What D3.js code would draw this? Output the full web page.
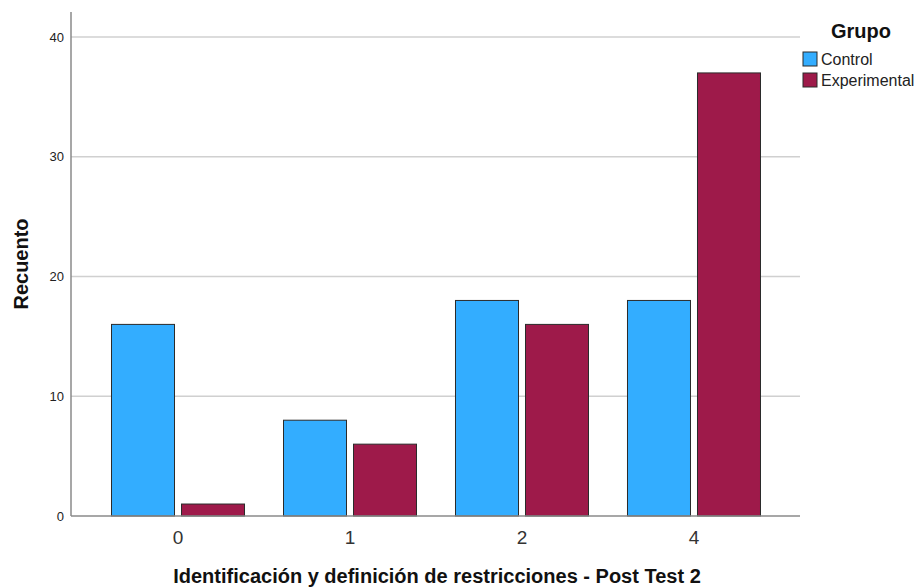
<!DOCTYPE html>
<html><head><meta charset="utf-8">
<script src="https://cdn.jsdelivr.net/npm/d3@7"></script>
<style>body{margin:0;background:#fff}svg{display:block;font-family:Arial,"Liberation Sans",sans-serif}</style>
</head><body><svg id="c" width="920" height="588"></svg>
<script>
const categories = ["0","1","2","4"];
const groups = ["Control","Experimental"];
const controlValues = [16, 8, 18, 18];
const experimentalValues = [1, 6, 16, 37];
const yTicks = [0, 10, 20, 30, 40];
const colors = ["#33adff", "#9e1a4a"];

const svg = d3.select("#c");
const mLeft = 71, mRight = 800, mTop = 12, mBottom = 516;
const x = d3.scaleBand().domain(categories).range([92, 780]).paddingInner(0.2267).paddingOuter(0.1134);
const x1 = d3.scaleBand().domain(groups).range([0, x.bandwidth()]).paddingInner(0.1);
const y = d3.scaleLinear().domain([0, 40]).range([mBottom, 37]);

// gridlines
svg.append("g").selectAll("line").data(yTicks.filter(d => d > 0)).join("line")
  .attr("x1", mLeft).attr("x2", mRight).attr("y1", d => y(d)).attr("y2", d => y(d))
  .attr("stroke", "#d0d0d0").attr("stroke-width", 1.5);

const data = categories.map((c, i) => ({cat: c, vals: [controlValues[i], experimentalValues[i]]}));
svg.append("g").selectAll("g").data(data).join("g")
  .attr("transform", d => `translate(${x(d.cat)},0)`)
  .selectAll("rect").data(d => d.vals.map((v, j) => ({g: groups[j], v, j}))).join("rect")
  .attr("x", d => x1(d.g)).attr("width", x1.bandwidth())
  .attr("y", d => y(d.v)).attr("height", d => y(0) - y(d.v))
  .attr("fill", d => colors[d.j]).attr("stroke", "#2b2b2b").attr("stroke-width", 1);

// axes
const yAxis = svg.append("g").attr("transform", `translate(${mLeft},0)`)
  .call(d3.axisLeft(y).tickValues(yTicks).tickSize(0).tickPadding(7));
yAxis.select(".domain").remove();
yAxis.selectAll("text").attr("font-size", 13).attr("fill", "#222").attr("font-family", "Arial, 'Liberation Sans', sans-serif");
svg.append("line").attr("x1", mLeft).attr("x2", mLeft).attr("y1", mTop).attr("y2", mBottom).attr("stroke", "#8a8a8a").attr("stroke-width", 1.5);

const xAxis = svg.append("g").attr("transform", `translate(0,${mBottom})`)
  .call(d3.axisBottom(x).tickSize(0).tickPadding(14.5));
xAxis.select(".domain").remove();
xAxis.selectAll("text").attr("font-size", 19).attr("fill", "#333").attr("font-family", "Arial, 'Liberation Sans', sans-serif");
svg.append("line").attr("x1", mLeft).attr("x2", mRight).attr("y1", mBottom).attr("y2", mBottom).attr("stroke", "#8a8a8a").attr("stroke-width", 1.5);

// titles
svg.append("text").attr("x", 437).attr("y", 583).attr("text-anchor", "middle")
  .attr("font-size", 20).attr("font-weight", "bold").attr("fill", "#111")
  .text("Identificación y definición de restricciones - Post Test 2");
svg.append("text").attr("transform", "translate(28,264) rotate(-90)").attr("text-anchor", "middle")
  .attr("font-size", 20).attr("font-weight", "bold").attr("fill", "#111").text("Recuento");

// legend
svg.append("text").attr("x", 861).attr("y", 38).attr("text-anchor", "middle")
  .attr("font-size", 20).attr("font-weight", "bold").attr("fill", "#111").text("Grupo");
const lg = svg.append("g").selectAll("g").data(groups).join("g")
  .attr("transform", (d, i) => `translate(803,${52 + i * 21})`);
lg.append("rect").attr("width", 14).attr("height", 14).attr("fill", (d, i) => colors[i]).attr("stroke", "#2b2b2b");
lg.append("text").attr("x", 18).attr("y", 12.5).attr("font-size", 16).attr("fill", "#222").text(d => d);
</script></body></html>
